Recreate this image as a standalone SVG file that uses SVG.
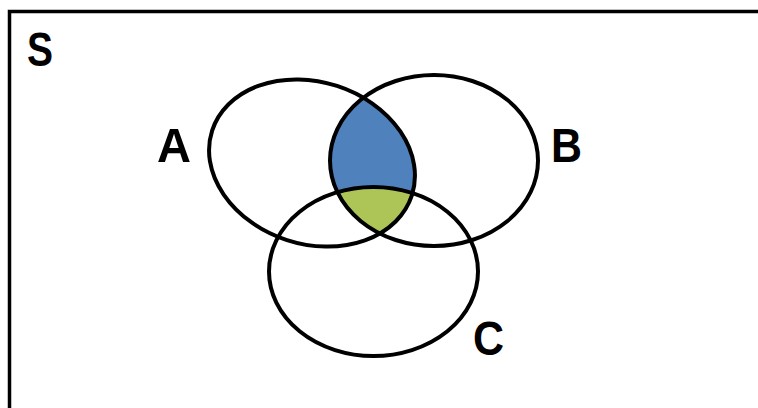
<svg xmlns="http://www.w3.org/2000/svg" width="758" height="408" viewBox="0 0 758 408">
<style>
.set{fill:none;stroke:#000;stroke-width:4}
.lbl{font-family:"Liberation Sans",Arial,sans-serif;font-weight:bold;font-size:49px;fill:#000}
</style>
<defs>
<clipPath id="clipA"><ellipse cx="312" cy="163" rx="105" ry="81" transform="rotate(18 312 163)"/></clipPath>
<clipPath id="clipB"><ellipse cx="434" cy="160.5" rx="104" ry="85.5"/></clipPath>
</defs>
<rect width="758" height="408" fill="#fff"/>
<g id="universe">
<rect x="9.5" y="11.5" width="800" height="450" fill="none" stroke="#000" stroke-width="3.5"/>
<text class="lbl" x="27" y="66" textLength="26" lengthAdjust="spacingAndGlyphs">S</text>
</g>
<g id="regions">
<g clip-path="url(#clipA)"><ellipse cx="434" cy="160.5" rx="104" ry="85.5" fill="#4F81BD"/></g>
<g clip-path="url(#clipA)"><g clip-path="url(#clipB)"><ellipse cx="373.5" cy="271.5" rx="104.5" ry="84.5" fill="#ADC556"/></g></g>
</g>
<g id="setA">
<ellipse class="set" cx="312" cy="163" rx="105" ry="81" transform="rotate(18 312 163)"/>
<text class="lbl" x="157" y="162" textLength="34" lengthAdjust="spacingAndGlyphs">A</text>
</g>
<g id="setB">
<ellipse class="set" cx="434" cy="160.5" rx="104" ry="85.5"/>
<text class="lbl" x="551" y="162" textLength="31" lengthAdjust="spacingAndGlyphs">B</text>
</g>
<g id="setC">
<ellipse class="set" cx="373.5" cy="271.5" rx="104.5" ry="84.5"/>
<text class="lbl" x="473" y="355" textLength="31" lengthAdjust="spacingAndGlyphs">C</text>
</g>
<g id="connectors"></g>
</svg>
